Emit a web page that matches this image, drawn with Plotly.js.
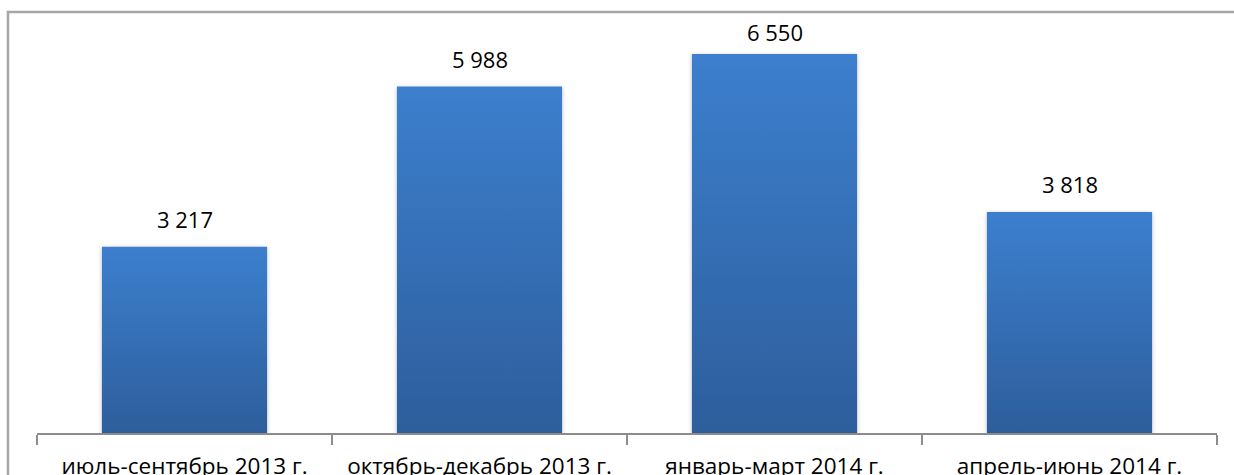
<!DOCTYPE html>
<html><head><meta charset="utf-8">
<script src="https://cdn.plot.ly/plotly-3.0.1.min.js"></script>
<style>html,body{margin:0;padding:0;background:#fff;overflow:hidden}#chart{width:1234px;height:475px}</style>
</head><body><div id="chart"></div>
<script>
const categories = ["июль-сентябрь 2013 г.", "октябрь-декабрь 2013 г.", "январь-март 2014 г.", "апрель-июнь 2014 г."];
const values = [3217, 5988, 6550, 3818];
const valueLabels = ["3 217", "5 988", "6 550", "3 818"];

const FONT = "Open Sans, sans-serif";
const trace = {
  type: "bar", x: categories, y: values,
  marker: {color: "#3570b8", line: {width: 0}},
  hoverinfo: "none"
};
const maxVal = Math.max(...values);
const annotations = categories.map((c, i) => ({
  x: c, y: values[i], xref: "x", yref: "y", text: valueLabels[i], showarrow: false,
  yanchor: "bottom", yshift: values[i] === maxVal ? 5 : 11,
  font: {family: FONT, size: 22, color: "#000"}
}));
const layout = {
  width: 1234, height: 475,
  margin: {l: 37, r: 17, t: 28, b: 42},
  paper_bgcolor: "#fff", plot_bgcolor: "#fff",
  bargap: 0.44, showlegend: false,
  xaxis: {type: "category", showline: true, linecolor: "#8c8c8c", linewidth: 1.5,
    ticks: "outside", tickson: "boundaries", ticklen: 10, tickcolor: "#8c8c8c", tickwidth: 1.5,
    ticklabelstandoff: 12,
    tickfont: {family: FONT, size: 22.5, color: "#000"}, showgrid: false, zeroline: false},
  yaxis: {range: [0, 7000], visible: false, showgrid: false, zeroline: false},
  annotations: annotations,
  shapes: [{type: "path", xref: "paper", yref: "paper",
    path: "M -0.0246 -0.2 L -0.0246 1.0395 L 1.1 1.0395",
    line: {color: "#a6a6a6", width: 2.5}}]
};
Plotly.newPlot("chart", [trace], layout, {staticPlot: true}).then(gd => {
  const svg = gd.querySelector("svg.main-svg");
  const ns = "http://www.w3.org/2000/svg";
  let defs = svg.querySelector("defs");
  const g = document.createElementNS(ns, "linearGradient");
  g.setAttribute("id", "barGrad"); g.setAttribute("x1", "0"); g.setAttribute("y1", "0");
  g.setAttribute("x2", "0"); g.setAttribute("y2", "1");
  [["0", "#3c7fce"], ["1", "#2d5e9c"]].forEach(([o, c]) => {
    const s = document.createElementNS(ns, "stop"); s.setAttribute("offset", o); s.setAttribute("stop-color", c); g.appendChild(s);
  });
  defs.appendChild(g);
  const f = document.createElementNS(ns, "filter");
  f.setAttribute("id", "barShadow"); f.setAttribute("x", "-10%"); f.setAttribute("y", "-10%"); f.setAttribute("width", "120%"); f.setAttribute("height", "120%");
  f.innerHTML = '<feDropShadow dx="0" dy="1" stdDeviation="2" flood-color="#000" flood-opacity="0.25"/>';
  defs.appendChild(f);
  gd.querySelectorAll(".bars .point path").forEach(p => {
    p.style.fill = "url(#barGrad)"; p.setAttribute("filter", "url(#barShadow)");
  });
});
</script></body></html>
